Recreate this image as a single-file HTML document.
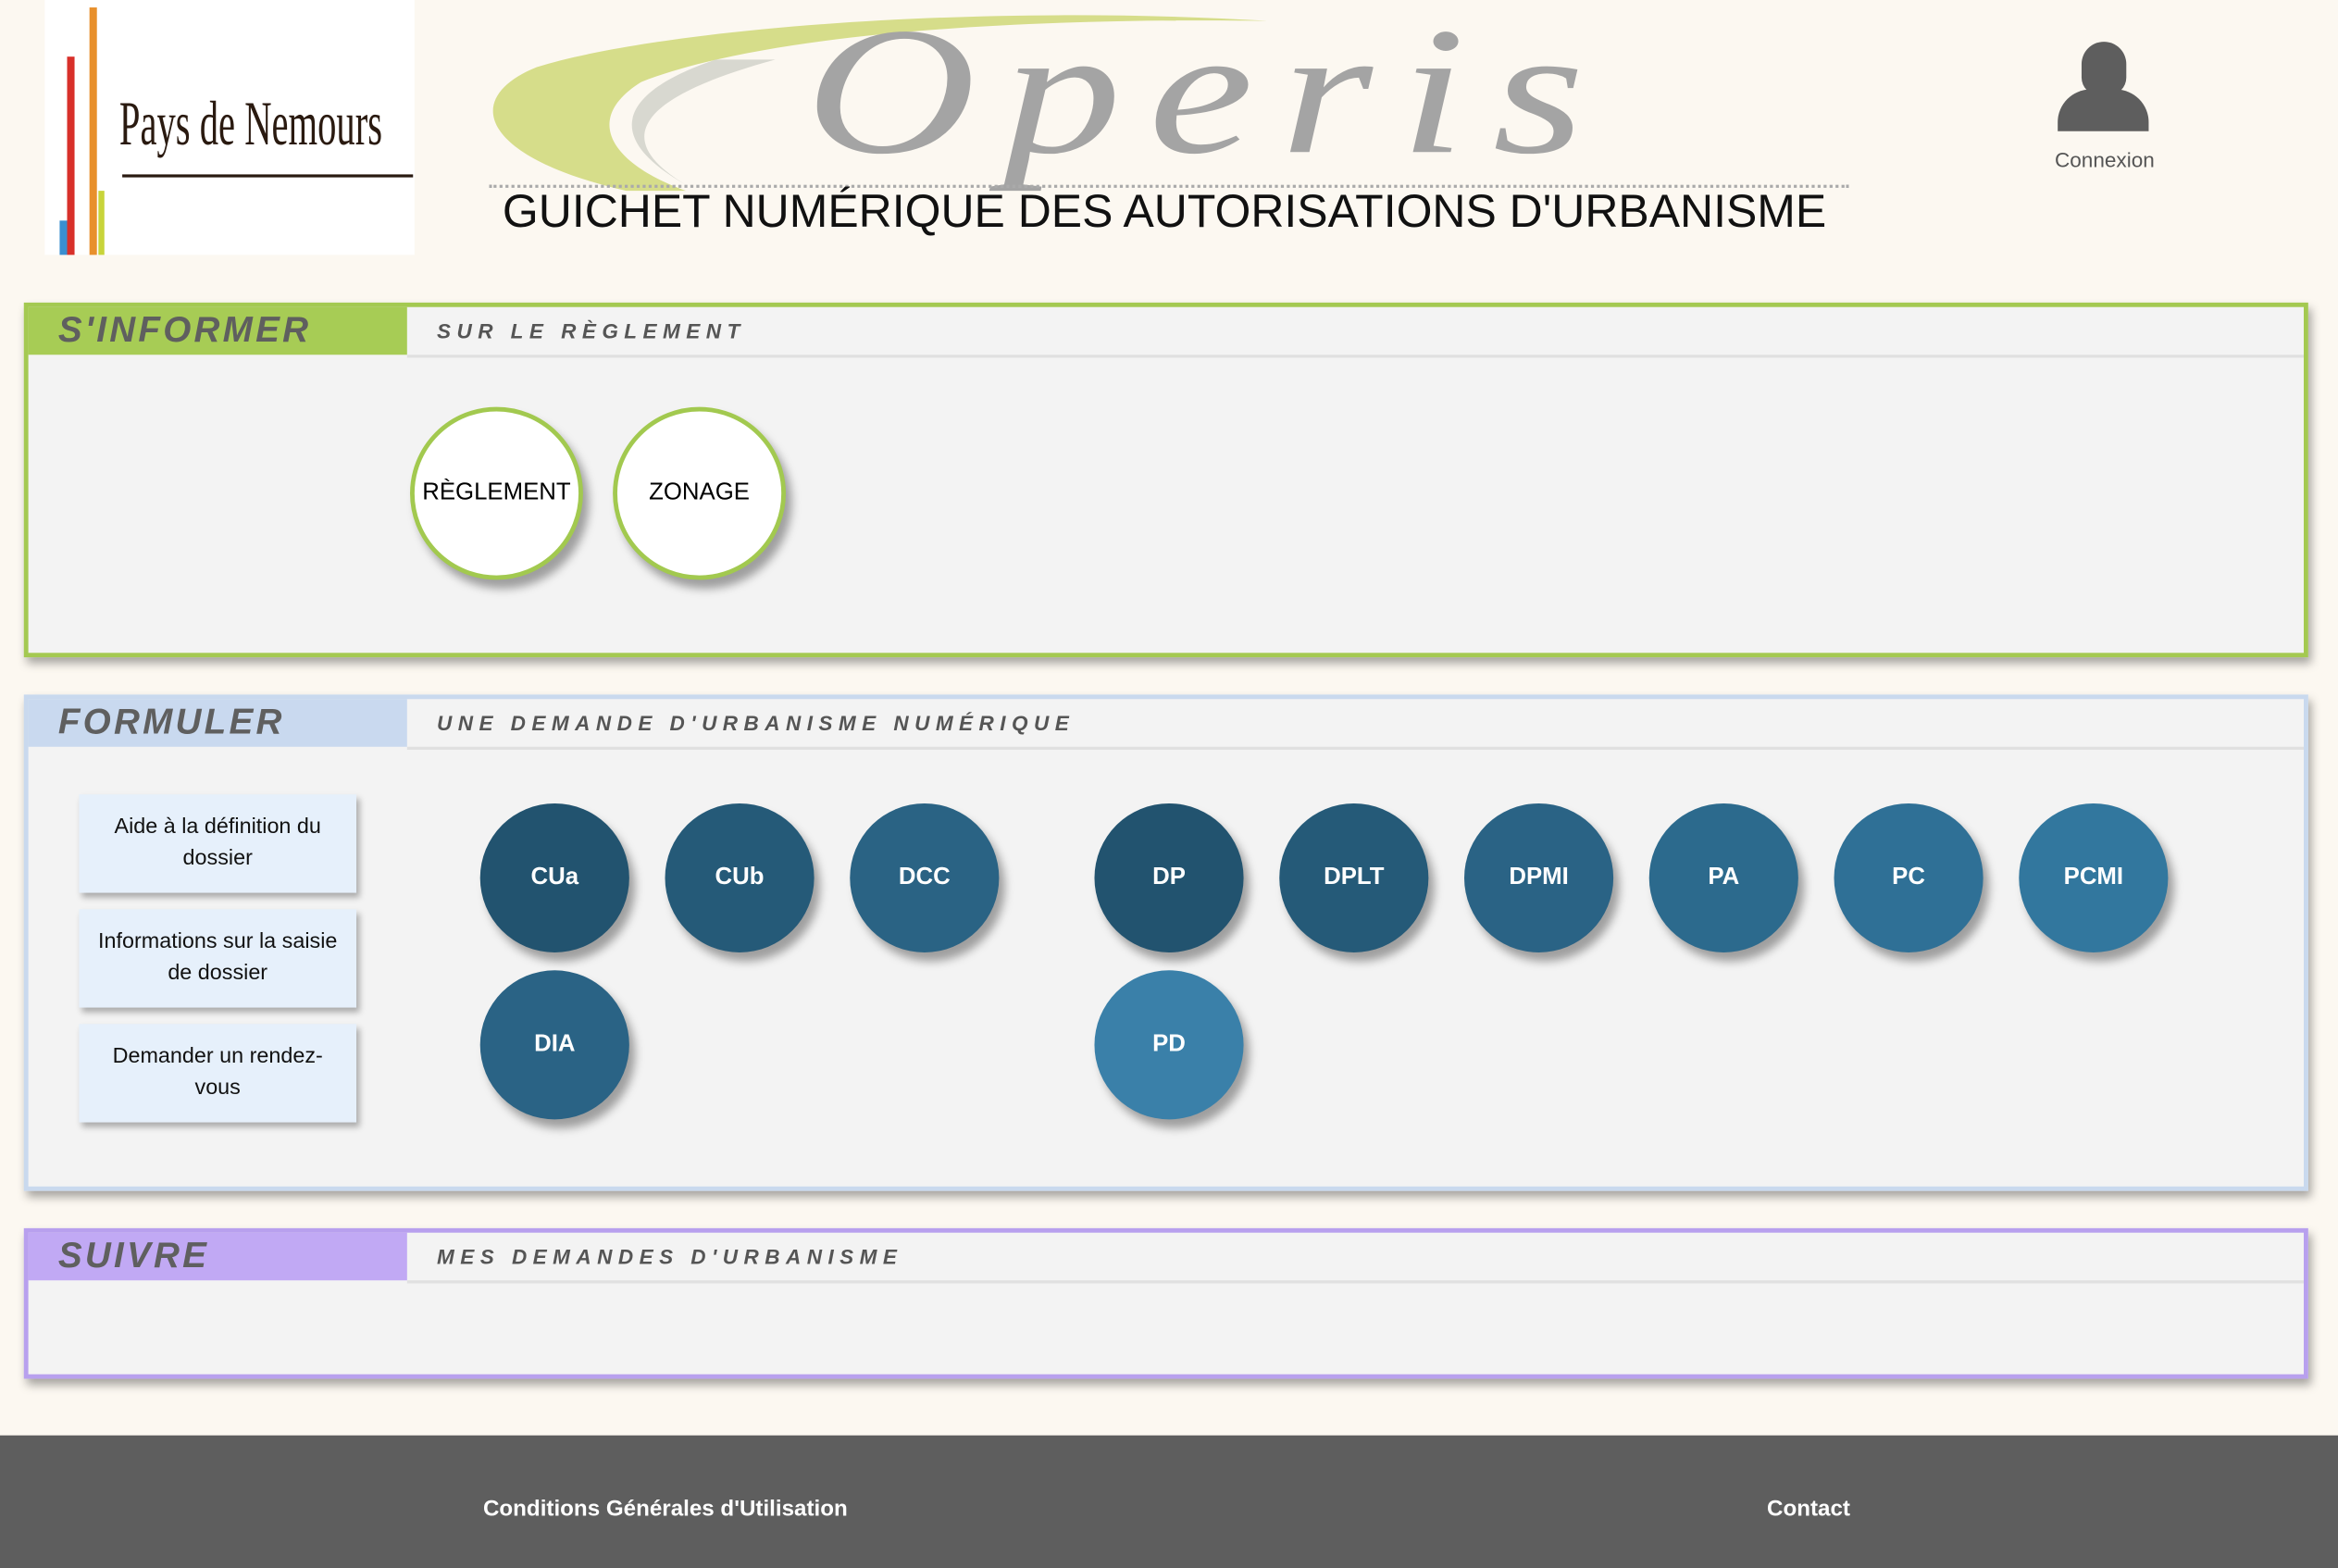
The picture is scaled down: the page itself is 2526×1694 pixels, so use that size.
<!DOCTYPE html>
<html><head><meta charset="utf-8"><style>
html,body{margin:0;padding:0;width:2526px;height:1694px;overflow:hidden;background:#fcf8f1;font-family:"Liberation Sans",sans-serif}
#w{position:absolute;left:0;top:0;width:1568px;height:1052px;transform:scale(1.611,1.6103);transform-origin:0 0}
.a{position:absolute}
.sec{position:absolute;left:16px;width:1526px;background:#f3f3f3;border:3px solid;box-shadow:2px 4px 6px rgba(0,0,0,.35)}
.lab{position:absolute;left:0;top:0;width:254px;height:32px;font-weight:bold;font-style:italic;font-size:24px;letter-spacing:2px;color:#5f5f5f;line-height:32px;padding-left:20px;box-sizing:border-box}
.hd{position:absolute;left:254px;top:0;right:0;height:32px;border-bottom:2px solid #e0e0e0;font-weight:bold;font-style:italic;font-size:14px;letter-spacing:4px;color:#555;line-height:32px;padding-left:20px}
.c{position:absolute;width:100px;height:100px;border-radius:50%;color:#fff;font-weight:bold;font-size:16px;text-align:center;line-height:100px;box-shadow:4px 6px 6px rgba(0,0,0,.35)}
.w{position:absolute;width:110px;height:110px;border-radius:50%;background:#fff;border:3px solid #a2c94f;font-size:16px;text-align:center;line-height:110px;box-shadow:4px 6px 6px rgba(0,0,0,.35);color:#000}
.b{position:absolute;left:34px;width:186px;height:66px;background:#e6f0fb;box-shadow:2px 3px 4px rgba(0,0,0,.3);font-size:14.5px;text-align:center;line-height:21px;display:flex;align-items:center;justify-content:center;color:#111}
</style></head><body><div id="w">
<div class="a" style="left:30px;top:0;width:248px;height:171px;background:#fff"></div>
<div class="a" style="left:45px;top:38px;width:5px;height:133px;background:#d8302a"></div>
<div class="a" style="left:60px;top:5px;width:5px;height:166px;background:#e8902c"></div>
<div class="a" style="left:40px;top:148px;width:5px;height:23px;background:#3a8fd0"></div>
<div class="a" style="left:66px;top:128px;width:4px;height:43px;background:#c8d43a"></div>
<div class="a" style="left:80px;top:60px;font-family:'Liberation Serif',serif;font-size:42px;color:#2a1a10;transform:scaleX(.6);transform-origin:0 0;white-space:nowrap">Pays de Nemours</div>
<div class="a" style="left:82px;top:117px;width:195px;height:2px;background:#2a1a10"></div>
<svg class="a" style="left:320px;top:0" width="560" height="140"><path d="M530 14 C330 2 120 20 40 45 C-10 65 0 105 100 128 L140 128 C90 110 70 80 110 55 C200 20 380 12 530 14Z" fill="#d6dd8a"/><path d="M160 40 C100 60 80 90 140 124 C100 100 90 70 200 40Z" fill="#d8d8d0"/></svg>
<div class="a" style="left:540px;top:-8px;font-family:'Liberation Serif',serif;font-style:italic;font-size:122px;color:#a4a4a4;letter-spacing:14px;transform:scaleX(1.3);transform-origin:0 0">Operis</div>
<div class="a" style="left:328px;top:124px;width:912px;border-top:2px dotted #aaa"></div>
<div class="a" style="left:337px;top:124px;font-size:31px;color:#111;white-space:nowrap">GUICHET NUMÉRIQUE DES AUTORISATIONS D'URBANISME</div>
<div class="a" style="left:1396px;top:28px;width:30px;height:36px;border-radius:15px 15px 12px 12px;background:#5e5e5e"></div>
<div class="a" style="left:1380px;top:60px;width:61px;height:28px;border-radius:22px 22px 0 0;background:#5e5e5e"></div>
<div class="a" style="left:1378px;top:99px;font-size:14px;color:#555">Connexion</div>

<div class="sec" style="top:203px;height:232px;border-color:#a4c951">
<div class="lab" style="background:#a7cc55">S'INFORMER</div><div class="hd">SUR LE RÈGLEMENT</div>
<div class="w" style="left:256px;top:67px">RÈGLEMENT</div>
<div class="w" style="left:392px;top:67px">ZONAGE</div>
</div>

<div class="sec" style="top:466px;height:327px;border-color:#c9d9ee">
<div class="lab" style="background:#c9d9ef">FORMULER</div><div class="hd">UNE DEMANDE D'URBANISME NUMÉRIQUE</div>
<div class="b" style="top:64px">Aide à la définition du<br>dossier</div>
<div class="b" style="top:141px">Informations sur la saisie<br>de dossier</div>
<div class="b" style="top:218px">Demander un rendez-<br>vous</div>
<div class="c" style="left:303px;top:70px;background:#22536f">CUa</div>
<div class="c" style="left:427px;top:70px;background:#255a78">CUb</div>
<div class="c" style="left:551px;top:70px;background:#2a6384">DCC</div>
<div class="c" style="left:715px;top:70px;background:#22536f">DP</div>
<div class="c" style="left:839px;top:70px;background:#255a78">DPLT</div>
<div class="c" style="left:963px;top:70px;background:#2a6385">DPMI</div>
<div class="c" style="left:1087px;top:70px;background:#2c6a8d">PA</div>
<div class="c" style="left:1211px;top:70px;background:#2f7096">PC</div>
<div class="c" style="left:1335px;top:70px;background:#32779e">PCMI</div>
<div class="c" style="left:303px;top:182px;background:#2a6385">DIA</div>
<div class="c" style="left:715px;top:182px;background:#3a80a9">PD</div>
</div>

<div class="sec" style="top:824px;height:95px;border-color:#b8a0ee">
<div class="lab" style="background:#c1a9f4">SUIVRE</div><div class="hd">MES DEMANDES D'URBANISME</div>
</div>

<div class="a" style="left:0;top:963px;width:1568px;height:89px;background:#5e5e5e"></div>
<div class="a" style="left:324px;top:1004px;color:#fff;font-weight:bold;font-size:15px">Conditions Générales d'Utilisation</div>
<div class="a" style="left:1185px;top:1004px;color:#fff;font-weight:bold;font-size:15px">Contact</div>
</div></body></html>
